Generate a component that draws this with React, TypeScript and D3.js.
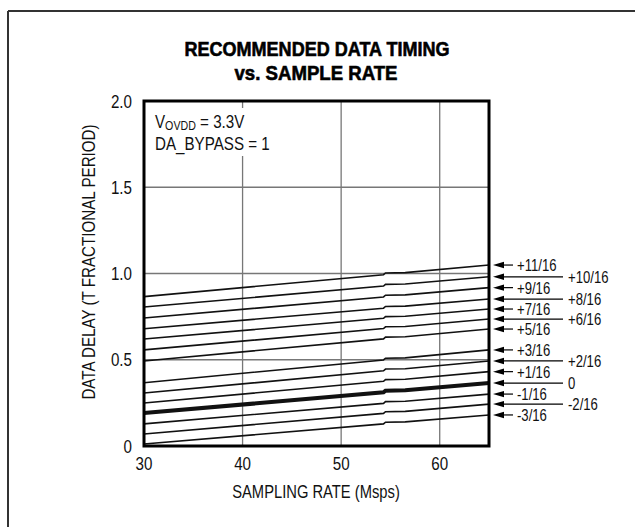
import React from 'react';
import * as d3 from 'd3';

const xSamples = [30, 54.3, 54.5, 56.5, 65];
const seriesLabels = ['+11/16', '+10/16', '+9/16', '+8/16', '+7/16', '+6/16', '+5/16', '+3/16', '+2/16', '+1/16', '0', '-1/16', '-2/16', '-3/16'];
const sP11 = [0.866, 0.993, 1.003, 1.005, 1.049];
const sP10 = [0.806, 0.927, 0.937, 0.939, 0.981];
const sP9 = [0.742, 0.864, 0.874, 0.876, 0.918];
const sP8 = [0.680, 0.799, 0.809, 0.811, 0.852];
const sP7 = [0.620, 0.740, 0.750, 0.752, 0.794];
const sP6 = [0.557, 0.681, 0.691, 0.693, 0.736];
const sP5 = [0.493, 0.621, 0.631, 0.633, 0.678];
const sP3 = [0.367, 0.499, 0.509, 0.511, 0.557];
const sP2 = [0.307, 0.436, 0.446, 0.448, 0.493];
const sP1 = [0.249, 0.375, 0.385, 0.387, 0.431];
const s0 = [0.191, 0.311, 0.321, 0.323, 0.365];
const sM1 = [0.128, 0.247, 0.257, 0.259, 0.301];
const sM2 = [0.070, 0.189, 0.199, 0.201, 0.243];
const sM3 = [0.012, 0.128, 0.138, 0.140, 0.180];
const seriesValues = [sP11, sP10, sP9, sP8, sP7, sP6, sP5, sP3, sP2, sP1, s0, sM1, sM2, sM3];
const xTicks = [30, 40, 50, 60];
const yTicks = [0, 0.5, 1.0, 1.5, 2.0];
const yTickLabels = ['0', '0.5', '1.0', '1.5', '2.0'];
const xGrid = [40, 50, 60];
const yGrid = [0.5, 1.0, 1.5];

const FONT = "'Liberation Sans', Arial, sans-serif";
const SX = 0.82;

function T(props: { x: number; y: number; size?: number; anchor?: string; rotate?: number; dy?: string; weight?: number; children: React.ReactNode }) {
  const { x, y, size = 18, anchor = 'start', rotate = 0, dy, weight, children } = props;
  return (
    <text
      transform={`translate(${x},${y})${rotate ? ` rotate(${rotate})` : ''} scale(${SX},1)`}
      fontSize={size}
      textAnchor={anchor as any}
      dy={dy}
      fontWeight={weight}
      fill="#111"
    >
      {children}
    </text>
  );
}

export default function App() {
  const W = 635, H = 527;
  const x = d3.scaleLinear().domain([30, 65]).range([144, 489]);
  const y = d3.scaleLinear().domain([0, 2]).range([446, 101]);
  const line = d3.line<[number, number]>().x(d => x(d[0])).y(d => y(d[1]));
  const [x0, x1] = x.range();
  const [yb, yt] = y.range();

  return (
    <svg width={W} height={H} style={{ position: 'absolute', left: 0, top: 0, background: '#fff' }} fontFamily={FONT}>
      <rect x={0} y={0} width={W} height={H} fill="#fff" />
      {/* outer frame */}
      <line x1={8} y1={11} x2={W} y2={11} stroke="#333" strokeWidth={2} />
      <line x1={8} y1={11} x2={8} y2={H} stroke="#333" strokeWidth={2} />

      {/* title */}
      <text x={317} y={56} textAnchor="middle" fontSize={20} fontWeight={700} textLength={265} lengthAdjust="spacingAndGlyphs" fill="#000" stroke="#000" strokeWidth={0.6}>RECOMMENDED DATA TIMING</text>
      <text x={316} y={80} textAnchor="middle" fontSize={20} fontWeight={700} textLength={163} lengthAdjust="spacingAndGlyphs" fill="#000" stroke="#000" strokeWidth={0.6}>vs. SAMPLE RATE</text>

      {/* grid */}
      {xGrid.map(v => (
        <line key={'gx' + v} x1={x(v)} x2={x(v)} y1={yt} y2={yb} stroke="#777" strokeWidth={1.3} />
      ))}
      {yGrid.map(v => (
        <line key={'gy' + v} x1={x0} x2={x1} y1={y(v)} y2={y(v)} stroke="#777" strokeWidth={1.3} />
      ))}

      {/* annotation with white background */}
      <rect x={150} y={108} width={120} height={48} fill="#fff" />
      <text transform={`translate(155,128) scale(${SX},1)`} fontSize={18.5} fill="#111">
        <tspan>V</tspan>
        <tspan fontSize={13} dy={2}>OVDD</tspan>
        <tspan dy={-2}> = 3.3V</tspan>
      </text>
      <T x={155} y={150} size={18.5}>DA_BYPASS = 1</T>

      {/* series */}
      {seriesValues.map((vals, i) => {
        const pts = xSamples.map((xv, j) => [xv, vals[j]] as [number, number]);
        const isZero = seriesLabels[i] === '0';
        return (
          <path key={'s' + i} d={line(pts) || ''} fill="none" stroke="#111" strokeWidth={isZero ? 4 : 1.6} />
        );
      })}

      {/* frame */}
      <rect x={x0} y={yt} width={x1 - x0} height={yb - yt} fill="none" stroke="#000" strokeWidth={3} />

      {/* y ticks */}
      {yTicks.map((v, i) => (
        <T key={'yt' + v} x={132} y={y(v)} dy="0.36em" anchor="end" size={18.5}>{yTickLabels[i]}</T>
      ))}
      {/* x ticks */}
      {xTicks.map(v => (
        <T key={'xt' + v} x={x(v)} y={470} anchor="middle" size={18.5}>{v}</T>
      ))}

      {/* axis titles */}
      <T x={316} y={498} anchor="middle">SAMPLING RATE (Msps)</T>
      <T x={95} y={262} anchor="middle" rotate={-90} size={18.5}>DATA DELAY (T FRACTIONAL PERIOD)</T>

      {/* right labels with arrows */}
      {seriesValues.map((vals, i) => {
        const lab = seriesLabels[i];
        const num = Math.abs(parseInt(lab.replace('+', ''), 10));
        const long = num % 2 === 0;
        const yy = y(vals[vals.length - 1]);
        const tip = x1 + 4;
        const end = long ? 563 : 513;
        const tx = long ? 568 : 517;
        return (
          <g key={'l' + i}>
            <path d={`M${tip},${yy} L${tip + 11},${yy - 3.2} L${tip + 11},${yy + 3.2} Z`} fill="#000" />
            <line x1={tip + 8} x2={end} y1={yy} y2={yy} stroke="#000" strokeWidth={1.2} />
            <T x={tx} y={yy} dy="0.4em" size={16}>{lab}</T>
          </g>
        );
      })}
    </svg>
  );
}
